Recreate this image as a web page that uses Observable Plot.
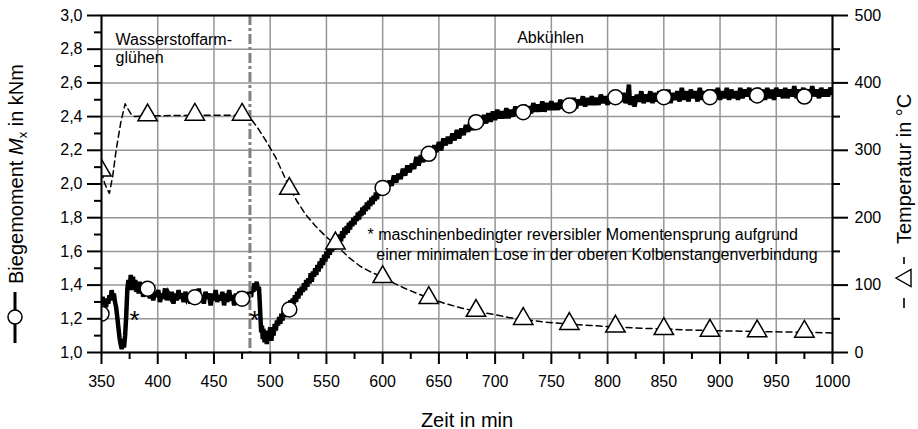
<!DOCTYPE html>
<html><head><meta charset="utf-8">
<script src="https://cdn.jsdelivr.net/npm/d3@7"></script>
<script src="https://cdn.jsdelivr.net/npm/@observablehq/plot@0.6"></script>
<style>html,body{margin:0;padding:0;background:#fff}svg{display:block}</style>
</head><body><div id="chart"></div>
<script>
// ---------- data ----------
const xTicks = [350,400,450,500,550,600,650,700,750,800,850,900,950,1000];
const xMinorTicks = [375,425,475,525,575,625,675,725,775,825,875,925,975];
const momentTicks = [1.0,1.2,1.4,1.6,1.8,2.0,2.2,2.4,2.6,2.8,3.0];
const momentMinorTicks = [1.1,1.3,1.5,1.7,1.9,2.1,2.3,2.5,2.7,2.9];
const tempTicks = [0,100,200,300,400,500];
const tempMinorTicks = [50,150,250,350,450];
const phaseBoundary = [482];

// Biegemoment Mx in kNm over Zeit in min
const moment = [
[350,1.30],[351,1.33],[352,1.28],[353,1.32],[354,1.27],[355,1.31],[356,1.29],[357,1.34],[358,1.31],[359,1.37],
[360,1.33],[361,1.35],[362,1.30],[363,1.27],[364,1.21],[365,1.15],[366,1.09],[367,1.05],[368,1.02],[369,1.08],
[370,1.03],[371,1.10],[372,1.22],[373,1.38],[374,1.43],[375,1.37],[376,1.46],[377,1.39],[378,1.45],[379,1.37],
[380,1.43],[381,1.36],[382,1.41],[383,1.35],[384,1.42],[385,1.36],[386,1.40],[387,1.33],[388,1.39],[389,1.35],
[390,1.40],[391,1.34],[392,1.38],
[393,1.32],[394.5,1.37],[396,1.31],[397.5,1.36],[399,1.33],[400.5,1.37],[402,1.30],[403.5,1.35],[405,1.32],[406.5,1.38],
[408,1.31],[409.5,1.35],[411,1.33],[412.5,1.36],[414,1.29],[415.5,1.35],[417,1.31],[418.5,1.37],[420,1.32],[421.5,1.35],
[423,1.30],[424.5,1.36],[426,1.32],[427.5,1.34],[429,1.29],[430.5,1.36],[432,1.31],[433.5,1.35],[435,1.30],[436.5,1.38],
[438,1.31],[439.5,1.34],[441,1.29],[442.5,1.36],[444,1.32],[445.5,1.35],[447,1.28],[448.5,1.35],[450,1.31],[451.5,1.37],
[453,1.30],[454.5,1.34],[456,1.31],[457.5,1.36],[459,1.28],[460.5,1.35],[462,1.30],[463.5,1.37],[465,1.31],[466.5,1.34],
[468,1.28],[469.5,1.35],[471,1.30],[472.5,1.36],[474,1.29],[475.5,1.34],[477,1.30],[478.5,1.35],[480,1.31],[481.5,1.36],
[483,1.33],[484,1.39],[485,1.36],[486,1.41],[487,1.38],[488,1.42],[489,1.37],[490,1.39],[490.7,1.30],[491.4,1.20],
[492,1.12],[492.7,1.16],[493.4,1.08],[494,1.14],[495,1.06],[496,1.13],[497,1.05],[498,1.12],[499,1.08],[500,1.15],
[501,1.07],[502,1.13],[503,1.10],[504,1.17],[505,1.13],[506,1.19],[507,1.16],[508,1.21],[509,1.17],[510,1.23],
[511,1.19],[512,1.25],[513,1.21],[514,1.27],[515,1.23],[516,1.29],[517,1.25],[518,1.31],[519,1.27],[520,1.32],
[521,1.29],[522,1.34],[523,1.30],[524,1.36],[525,1.32],[526,1.38],[527,1.34],[528,1.39],[529,1.36],[530,1.41],
[531,1.37],[532,1.43],[533,1.39],[534,1.44],[535,1.41],[536,1.47],[537,1.42],[538,1.48],[539,1.45],[540,1.50],
[541,1.46],[542,1.52],[543,1.48],[544,1.54],[545,1.50],[546,1.56],[547,1.52],[548,1.58],[549,1.54],[550,1.60],
[551,1.56],[552,1.62],[553,1.58],[554,1.63],[555,1.60],[556,1.65],[557,1.61],[558,1.67],[559,1.63],[560,1.69],
[561,1.64],[562,1.70],[563,1.66],[564,1.72],[565,1.68],[566,1.74],[567,1.70],[568,1.75],[569,1.71],[570,1.77],
[571,1.73],[572,1.78],[573,1.75],[574,1.80],[575,1.76],[576,1.81],[577,1.78],[578,1.83],[579,1.79],[580,1.84],
[581,1.81],[582,1.86],[583,1.82],[584,1.87],[585,1.84],[586,1.89],[587,1.85],[588,1.90],[589,1.87],[590,1.92],
[591,1.88],[592,1.93],[593,1.90],[594,1.95],[595,1.91],[596,1.96],[597,1.93],[598,1.98],[599,1.94],[600,1.99],
[602,2.00],[604,1.97],[606,2.02],[608,1.99],[610,2.05],[612,2.01],[614,2.06],[616,2.03],[618,2.09],[620,2.05],
[622,2.11],[624,2.07],[626,2.12],[628,2.09],[630,2.16],[632,2.11],[634,2.17],[636,2.13],[638,2.19],[640,2.15],
[642,2.21],[644,2.17],[646,2.23],[648,2.19],[650,2.25],[652,2.20],[654,2.27],[656,2.23],[658,2.28],[660,2.24],
[662,2.30],[664,2.26],[666,2.32],[668,2.27],[670,2.33],[672,2.29],[674,2.35],[676,2.31],[678,2.37],[680,2.32],
[682,2.38],[684,2.34],[686,2.40],[688,2.35],[690,2.41],[692,2.36],[694,2.42],[696,2.37],[698,2.43],[700,2.38],
[702,2.44],[704,2.39],[706,2.43],[708,2.39],[710,2.45],[712,2.39],[714,2.44],[716,2.40],[718,2.46],[720,2.41],
[722,2.45],[724,2.41],[726,2.47],[728,2.42],[730,2.46],[732,2.42],[734,2.48],[736,2.43],[738,2.47],[740,2.43],
[742,2.49],[744,2.43],[746,2.48],[748,2.44],[750,2.49],[752,2.44],[754,2.48],[756,2.44],[758,2.50],[760,2.45],
[762,2.49],[764,2.45],[766,2.50],[768,2.46],[770,2.51],[772,2.45],[774,2.50],[776,2.47],[778,2.52],[780,2.46],
[782,2.51],[784,2.47],[786,2.52],[788,2.47],[790,2.51],[792,2.47],[794,2.53],[796,2.48],[798,2.52],[800,2.47],
[802,2.53],[804,2.48],[806,2.52],[808,2.48],[810,2.53],[812,2.49],[814,2.54],[816,2.48],[818,2.53],[819,2.59],
[820,2.47],[822,2.52],[824,2.46],[826,2.53],[828,2.49],[830,2.55],[832,2.48],[834,2.53],[836,2.49],[838,2.55],
[840,2.48],[842,2.54],[844,2.49],[846,2.55],[848,2.50],[850,2.54],[852,2.49],[854,2.56],[856,2.48],[858,2.54],
[860,2.50],[862,2.55],[864,2.49],[866,2.57],[868,2.50],[870,2.55],[872,2.49],[874,2.56],[876,2.51],[878,2.55],
[880,2.49],[882,2.57],[884,2.50],[886,2.55],[888,2.50],[890,2.56],[892,2.49],[894,2.56],[896,2.51],[898,2.57],
[900,2.50],[902,2.55],[904,2.51],[906,2.57],[908,2.50],[910,2.56],[912,2.51],[914,2.55],[916,2.50],[918,2.57],
[920,2.51],[922,2.56],[924,2.52],[926,2.57],[928,2.50],[930,2.56],[932,2.51],[934,2.57],[936,2.51],[938,2.56],
[940,2.50],[942,2.57],[944,2.51],[946,2.56],[948,2.50],[950,2.57],[952,2.52],[954,2.56],[956,2.51],[958,2.57],
[960,2.51],[962,2.56],[964,2.52],[966,2.58],[968,2.51],[970,2.56],[972,2.52],[974,2.57],[976,2.51],[978,2.56],
[980,2.52],[982,2.58],[984,2.52],[986,2.56],[988,2.51],[990,2.57],[992,2.52],[994,2.56],[996,2.52],[998,2.57],
[1000,2.54]
];
const momentMarkers = [
[350,1.23],[391,1.378],[433,1.328],[475,1.319],[517,1.255],[600,1.977],[641,2.179],[683,2.367],
[725,2.426],[766,2.466],[807,2.515],[850,2.515],[891,2.515],[933,2.525],[975,2.519]
];

// Temperatur in °C over Zeit in min
const temperature = [
[350,268],[353,250],[357,236],[360,262],[363,300],[367,340],[371,369],[374,360],[377,352],[380,350],
[391,351],[433,352],[475,352],[481,351],[489,333],[497,312],[505,289],[511,267],[517,245],[524,224],
[531,206],[540,188],[549,173],[558,160],[570,141],[580,128],[590,119],[600,112],[610,103],[620,95],
[630,88],[641,81],[655,73],[670,66],[683,61],[700,56],[712,52],[725,49],[745,45],[766,42],
[785,40],[807,38],[830,36],[850,35],[870,33.5],[891,32.5],[912,31.8],[933,31.2],[955,30.5],[975,30],[1000,29]
];
const tempMarkers = [
[350,270],[391,352],[433,353],[475,353],[517,243],[558,162],[600,112],[641,81],
[683,62],[725,50],[766,42.6],[807,38.6],[850,35],[891,32.6],[933,31.6],[975,31]
];

const asterisks = [[379.3,1.228],[486,1.228]];
const phaseLabels = [
  {t:362.5, m:2.902, text:"Wasserstoffarm-\nglühen"},
  {t:719.6, m:2.911, text:"Abkühlen"}
];
const note = [
  {t:586.5, m:1.75, text:"* maschinenbedingter reversibler Momentensprung aufgrund\n\u00a0\u00a0einer minimalen Lose in der oberen Kolbenstangenverbindung"}
];

// right axis mapping: 0..500 °C  <->  1.0..3.0 kNm
const toM = T => 1 + T / 250;
const font = "'Liberation Sans', Arial, Helvetica, sans-serif";
const grid = "#969696";

const chart = Plot.plot({
  width: 918, height: 429,
  marginLeft: 101, marginRight: 86, marginTop: 15, marginBottom: 77,
  style: {fontFamily: font, background: "#fff", color: "#000", overflow: "visible"},
  x: {domain: [350, 1000]},
  y: {domain: [1, 3]},
  marks: [
    Plot.gridX(xTicks, {stroke: grid, strokeOpacity: 1, strokeWidth: 1.5}),
    Plot.gridY(momentTicks, {stroke: grid, strokeOpacity: 1, strokeWidth: 1.5}),
    Plot.text(phaseLabels, {x: "t", y: "m", text: "text", textAnchor: "start", lineAnchor: "top", lineHeight: 1.125, fontSize: 16, fill: "#000", ariaLabel: "boxed"}),
    Plot.text(note, {x: "t", y: "m", text: "text", textAnchor: "start", lineAnchor: "top", lineHeight: 1.25, fontSize: 16, fill: "#000", ariaLabel: "boxed"}),
    Plot.line(temperature, {x: d => d[0], y: d => toM(d[1]), stroke: "#000", strokeWidth: 1.5, strokeDasharray: "6,4", clip: true}),
    Plot.line(moment, {x: d => d[0], y: d => d[1], stroke: "#000", strokeWidth: 4.5, strokeLinejoin: "miter", strokeMiterlimit: 3, clip: true}),
    Plot.ruleX(phaseBoundary, {stroke: "#808080", strokeWidth: 3, strokeDasharray: "10,3,3,3"}),
    Plot.dot(momentMarkers, {x: d => d[0], y: d => d[1], r: 7.5, fill: "#fff", stroke: "#000", strokeWidth: 1.5, clip: true}),
    Plot.dot(tempMarkers, {x: d => d[0], y: d => toM(d[1]), symbol: "triangle", r: 7.2, fill: "#fff", stroke: "#000", strokeWidth: 1.5, clip: true}),
    Plot.text(asterisks, {x: d => d[0], y: d => d[1], text: d => "*", fontSize: 26, dy: 7, fill: "#000"}),
    Plot.frame({stroke: "#000", strokeWidth: 2}),
    Plot.axisX(xTicks, {tickSize: 12, tickPadding: 11, fontSize: 16, strokeWidth: 2, label: null, tickFormat: d => String(d)}),
    Plot.axisX(xMinorTicks, {tickSize: 7, strokeWidth: 2, label: null, tickFormat: () => ""}),
    Plot.axisY(momentTicks, {anchor: "left", tickSize: 14, tickPadding: 5, fontSize: 16, strokeWidth: 2, label: null, tickFormat: d => d.toFixed(1).replace(".", ",")}),
    Plot.axisY(momentMinorTicks, {anchor: "left", tickSize: 7, strokeWidth: 2, label: null, tickFormat: () => ""}),
    Plot.axisY(tempTicks.map(toM), {anchor: "right", tickSize: 15, tickPadding: 7, fontSize: 16, strokeWidth: 2, label: null, tickFormat: d => String(Math.round((d - 1) * 250))}),
    Plot.axisY(tempMinorTicks.map(toM), {anchor: "right", tickSize: 7, strokeWidth: 2, label: null, tickFormat: () => ""}),
    Plot.text(["Zeit in min"], {frameAnchor: "bottom", dy: 74, lineAnchor: "bottom", fontSize: 20, fill: "#000"})
  ]
});
document.getElementById("chart").append(chart);

// white boxes behind annotation texts
chart.querySelectorAll('g[aria-label="boxed"]').forEach(g => {
  Array.from(g.querySelectorAll("text")).forEach(t => {
    const b = t.getBBox();
    const r = document.createElementNS("http://www.w3.org/2000/svg", "rect");
    r.setAttribute("x", b.x - 4); r.setAttribute("y", b.y - 1);
    r.setAttribute("width", b.width + 7); r.setAttribute("height", b.height + 2);
    r.setAttribute("fill", "#fff"); r.setAttribute("stroke", "none");
    if (t.getAttribute("transform")) r.setAttribute("transform", t.getAttribute("transform"));
    g.insertBefore(r, g.firstChild);
  });
});

// axis titles with legend symbols
const svg = d3.select(chart);
const left = svg.append("text").attr("transform", "translate(23,284) rotate(-90)")
  .attr("text-anchor", "start").attr("font-size", 20).attr("font-family", font).attr("fill", "#000");
left.append("tspan").text("Biegemoment ");
left.append("tspan").attr("font-style", "italic").text("M");
left.append("tspan").attr("font-size", 13).attr("dy", 4).text("x");
left.append("tspan").attr("dy", -4).text(" in kNm");
svg.append("line").attr("x1", 15).attr("x2", 15).attr("y1", 292).attr("y2", 343).attr("stroke", "#000").attr("stroke-width", 3);
svg.append("circle").attr("cx", 15).attr("cy", 317).attr("r", 7).attr("fill", "#fff").attr("stroke", "#000").attr("stroke-width", 1.5);

svg.append("text").attr("transform", "translate(911,244) rotate(-90)").attr("text-anchor", "start")
  .attr("font-size", 20).attr("font-family", font).attr("fill", "#000").text("Temperatur in °C");
svg.append("line").attr("x1", 904).attr("x2", 904).attr("y1", 298).attr("y2", 308).attr("stroke", "#000").attr("stroke-width", 1.6);
svg.append("path").attr("d", "M896,278 L911,269.5 L911,286.5 Z").attr("fill", "#fff").attr("stroke", "#000").attr("stroke-width", 1.4);
svg.append("line").attr("x1", 904).attr("x2", 904).attr("y1", 257).attr("y2", 264).attr("stroke", "#000").attr("stroke-width", 1.6);
</script></body></html>
